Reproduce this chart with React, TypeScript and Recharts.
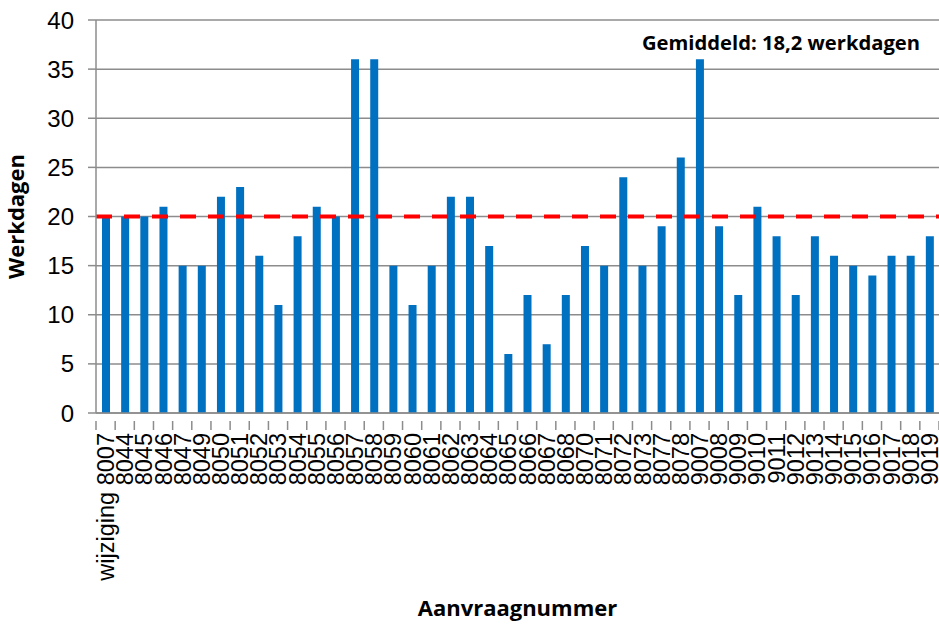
import React from "react";
import { BarChart, Bar, XAxis, YAxis, CartesianGrid, ReferenceLine, Label } from "recharts";

const categories = [
  "wijziging 8007", "8044", "8045", "8046", "8047", "8049", "8050", "8051", "8052", "8053",
  "8054", "8055", "8056", "8057", "8058", "8059", "8060", "8061", "8062", "8063",
  "8064", "8065", "8066", "8067", "8068", "8070", "8071", "8072", "8073", "8077",
  "8078", "9007", "9008", "9009", "9010", "9011", "9012", "9013", "9014", "9015",
  "9016", "9017", "9018", "9019",
];
const werkdagen = [
  20, 20, 20, 21, 15, 15, 22, 23, 16, 11,
  18, 21, 20, 36, 36, 15, 11, 15, 22, 22,
  17, 6, 12, 7, 12, 17, 15, 24, 15, 19,
  26, 36, 19, 12, 21, 18, 12, 18, 16, 15,
  14, 16, 16, 18,
];
const yTicks = [0, 5, 10, 15, 20, 25, 30, 35, 40];
const referenceValue = 20;
const averageLabel = "Gemiddeld: 18,2 werkdagen";

const data = categories.map((c, i) => ({ name: c, value: werkdagen[i] }));

const W = 939;
const H = 624;
const MARGIN = { top: 20, right: 0, left: 0, bottom: 0 };
const Y_WIDTH = 96;
const X_HEIGHT = 211;
const PLOT_W = W - MARGIN.left - MARGIN.right - Y_WIDTH;
const STEP = PLOT_W / categories.length;
const GRID = "#8c8c8c";

const XTick = (props: any) => {
  const { x, y, payload, index } = props;
  const last = index === categories.length - 1;
  return (
    <g>
      <line x1={x - STEP / 2} y1={y} x2={x - STEP / 2} y2={y + 9} stroke={GRID} strokeWidth={1.5} />
      {last && <line x1={x + STEP / 2} y1={y} x2={x + STEP / 2} y2={y + 9} stroke={GRID} strokeWidth={1.5} />}
      <g transform={`translate(${x},${y + 12})`}>
        <text
          transform="rotate(-90)"
          textAnchor="end"
          dy="0.36em"
          fontFamily="'Liberation Sans', Arial, sans-serif"
          fontSize={23.5}
          fill="#000"
        >
          {payload.value}
        </text>
      </g>
    </g>
  );
};

export default function App() {
  return (
    <div style={{ position: "absolute", left: 0, top: 0, width: W, height: H, background: "#fff" }}>
      <BarChart width={W} height={H} data={data} margin={MARGIN} barSize={8}>
        <CartesianGrid vertical={false} stroke={GRID} strokeWidth={1.5} />
        <XAxis
          dataKey="name"
          interval={0}
          tickLine={false}
          axisLine={{ stroke: GRID, strokeWidth: 1.5 }}
          height={X_HEIGHT}
          tick={<XTick />}
        >
          <Label
            value="Aanvraagnummer"
            position="insideBottom"
            offset={8}
            style={{ fontFamily: "'Open Sans', sans-serif", fontWeight: 700, fontSize: 22, fill: "#000" }}
          />
        </XAxis>
        <YAxis
          domain={[0, 40]}
          ticks={yTicks}
          interval={0}
          width={Y_WIDTH}
          tickSize={8}
          tickMargin={14}
          tickLine={{ stroke: GRID, strokeWidth: 1.5 }}
          axisLine={{ stroke: GRID, strokeWidth: 1.5 }}
          tick={{ fontFamily: "'Liberation Sans', Arial, sans-serif", fontSize: 24, fill: "#000" }}
        >
          <Label
            value="Werkdagen"
            angle={-90}
            position="insideLeft"
            offset={16}
            style={{ textAnchor: "middle", fontFamily: "'Open Sans', sans-serif", fontWeight: 700, fontSize: 22, fill: "#000" }}
          />
        </YAxis>
        <Bar dataKey="value" fill="#0070C0" isAnimationActive={false} />
        <ReferenceLine y={referenceValue} stroke="#FF0000" strokeWidth={4} strokeDasharray="16 12" />
      </BarChart>
      <div
        style={{
          position: "absolute",
          left: 642,
          top: 28,
          fontFamily: "'Open Sans', sans-serif",
          fontWeight: 700,
          fontSize: 20.2,
          lineHeight: "28px",
          color: "#000",
          whiteSpace: "nowrap",
        }}
      >
        {averageLabel}
      </div>
    </div>
  );
}
